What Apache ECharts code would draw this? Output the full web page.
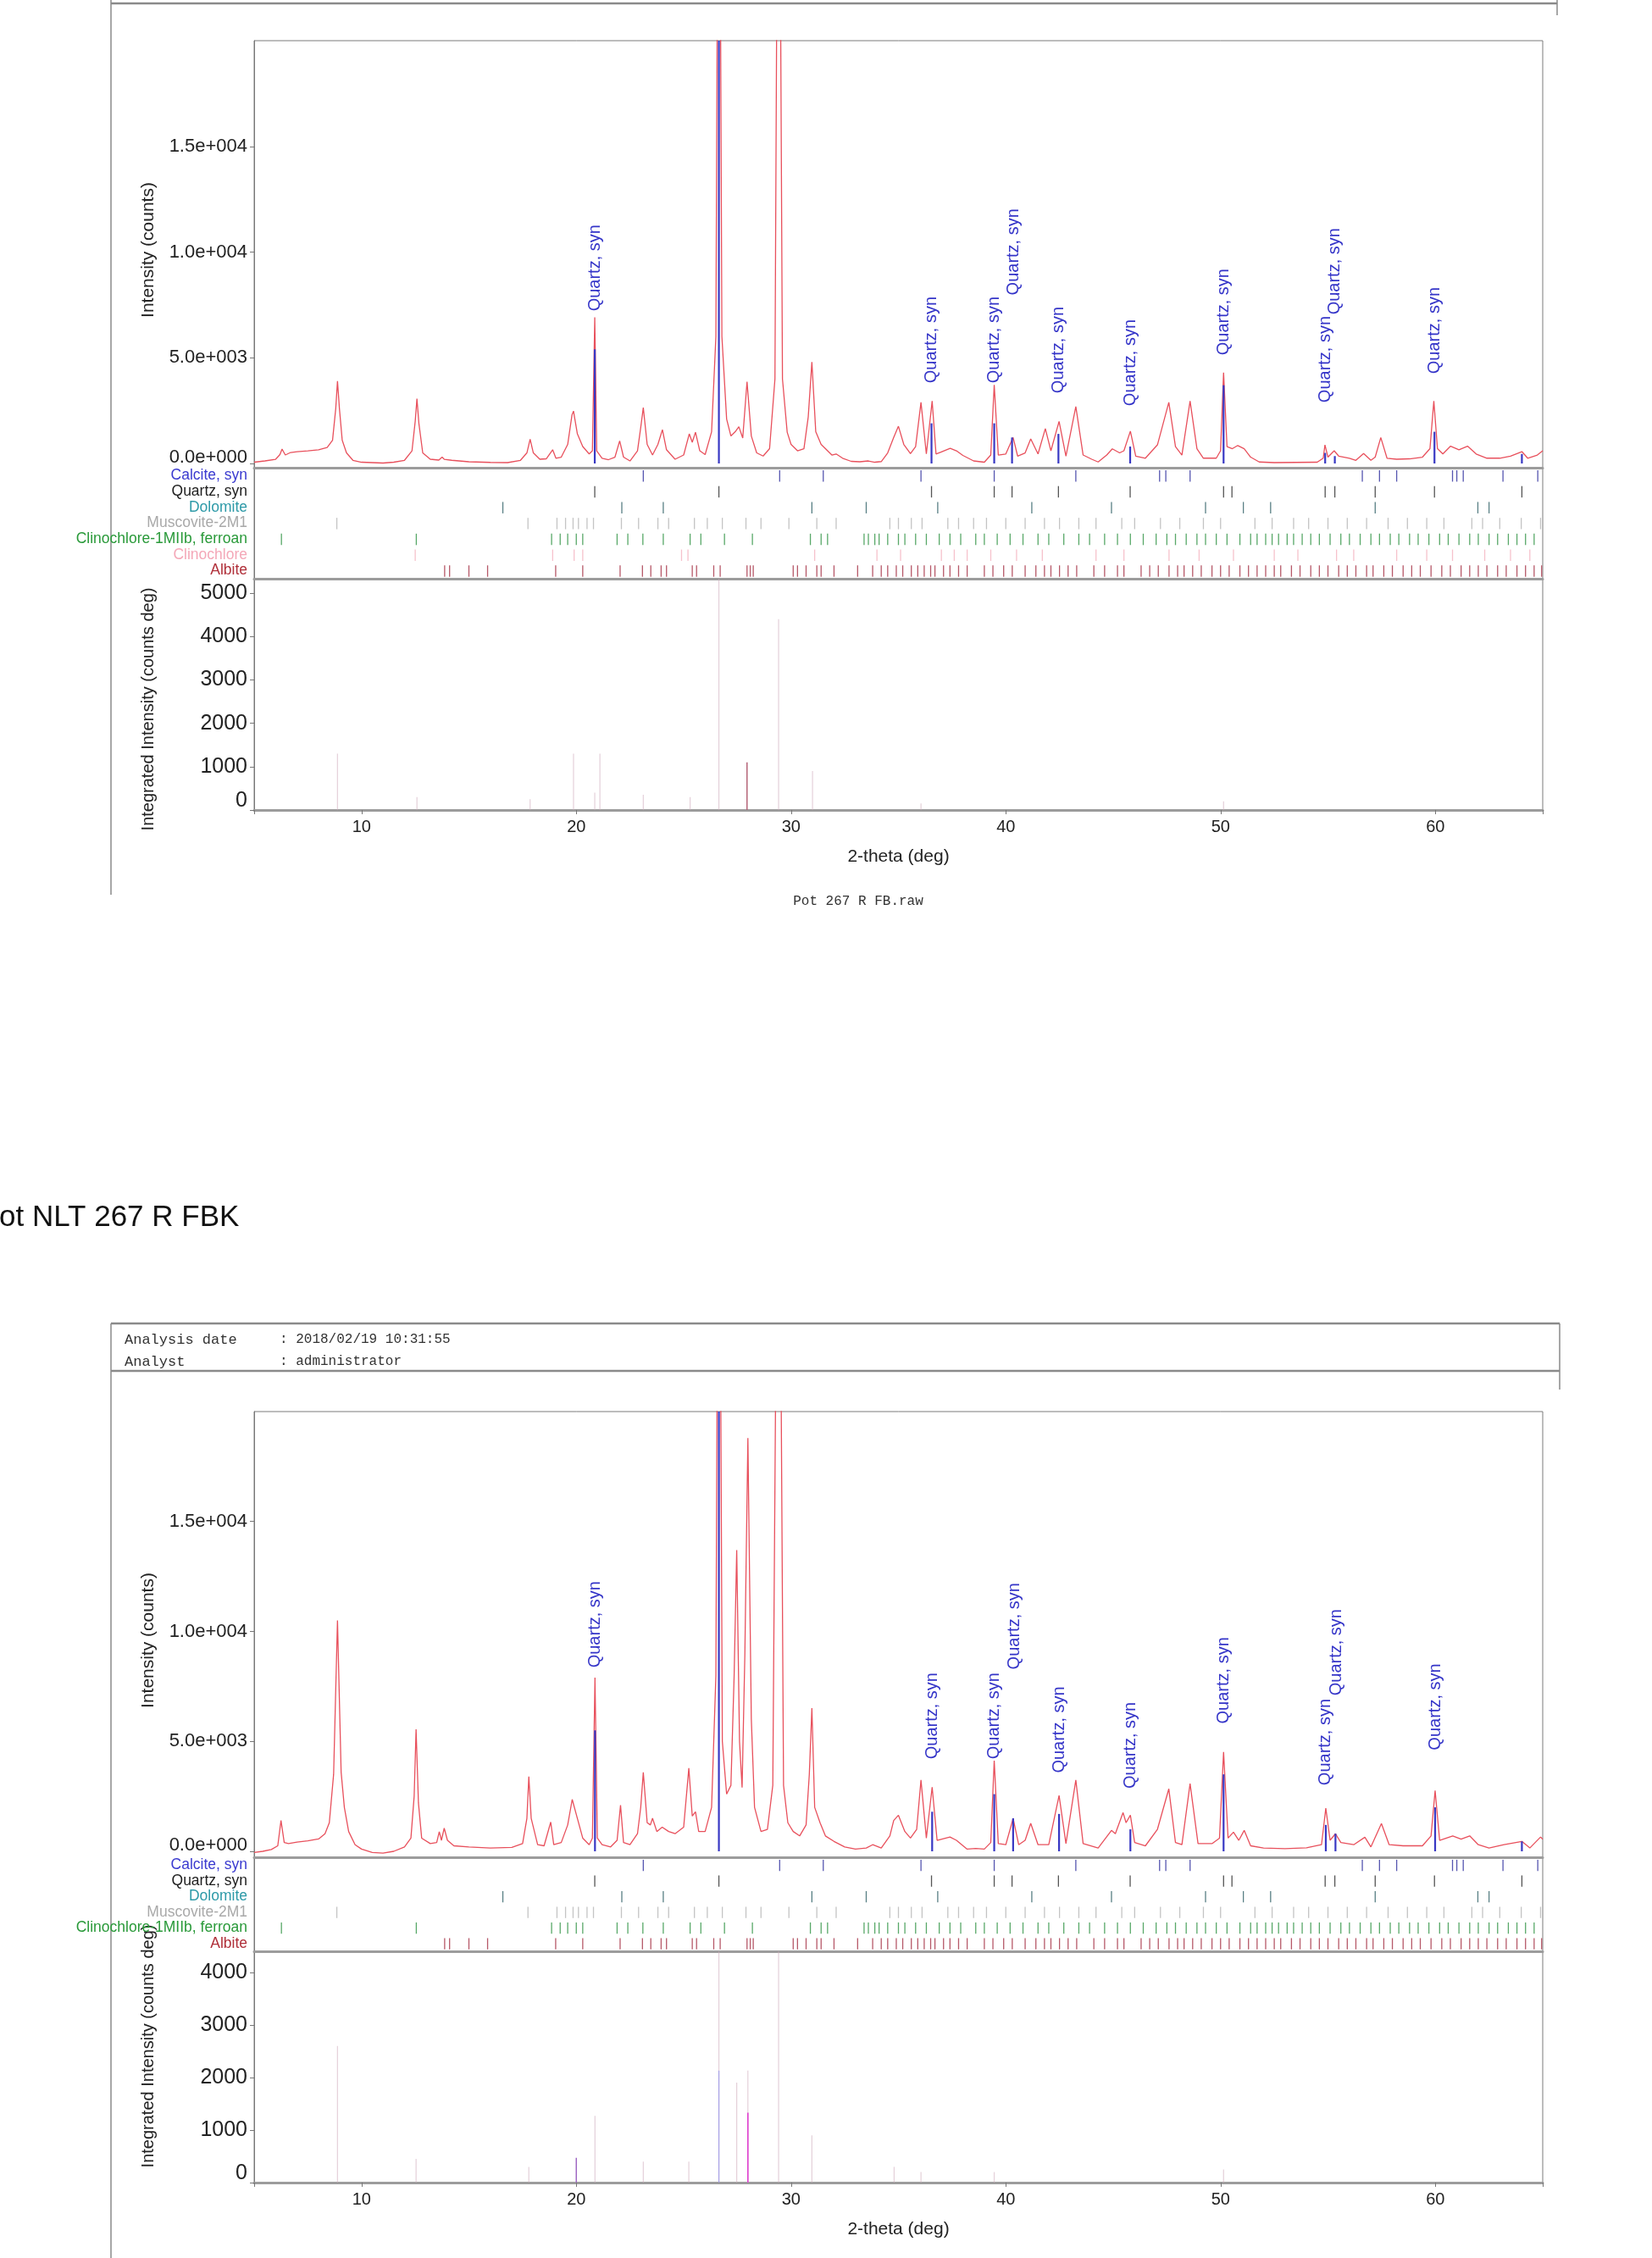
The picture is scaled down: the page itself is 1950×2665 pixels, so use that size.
<!DOCTYPE html>
<html><head><meta charset="utf-8">
<script src="https://cdn.jsdelivr.net/npm/echarts@6/dist/echarts.min.js"></script>
<style>html,body{margin:0;padding:0;background:#fff}#c{width:1950px;height:2665px}</style>
</head><body><div id="c"></div>
<script>
// ---------------- DATA ----------------
const xTickLabels = [10, 20, 30, 40, 50, 60];
const yMainTicks = [0, 5000, 10000, 15000];
const phasesA = ['Calcite, syn','Quartz, syn','Dolomite','Muscovite-2M1','Clinochlore-1MIIb, ferroan','Clinochlore','Albite'];
const phasesB = ['Calcite, syn','Quartz, syn','Dolomite','Muscovite-2M1','Clinochlore-1MIIb, ferroan','Albite'];

// measured pattern, sample A (top)
const profileA = [[5.0,60],[5.5,120],[6.0,200],[6.2,420],[6.3,680],[6.45,400],[6.7,520],[7.0,560],[7.5,600],[8.0,650],[8.4,760],[8.65,1100],[8.8,2600],[8.88,3900],[8.97,2600],[9.1,1100],[9.3,500],[9.6,150],[10.0,60],[10.5,40],[11.0,20],[11.5,60],[12.0,150],[12.35,600],[12.5,2000],[12.58,3060],[12.67,1900],[12.85,500],[13.2,200],[13.6,160],[13.75,300],[13.85,200],[14.2,150],[15.0,80],[16.0,50],[16.8,40],[17.4,150],[17.7,500],[17.85,1150],[18.0,500],[18.3,200],[18.6,220],[18.9,650],[19.05,250],[19.3,300],[19.6,900],[19.8,2300],[19.87,2480],[20.05,1400],[20.3,800],[20.6,450],[20.75,600],[20.86,6910],[20.95,600],[21.2,250],[21.5,180],[21.8,300],[22.02,1070],[22.2,300],[22.5,120],[22.85,600],[23.0,1700],[23.12,2640],[23.3,900],[23.55,400],[23.8,900],[24.01,1600],[24.2,650],[24.6,200],[25.0,400],[25.26,1400],[25.4,1000],[25.55,1480],[25.75,600],[26.0,420],[26.3,1500],[26.5,6000],[26.64,40000],[26.78,6000],[27.0,2100],[27.2,1300],[27.4,1500],[27.57,1740],[27.75,1200],[27.95,3870],[28.15,1300],[28.4,500],[28.7,350],[29.0,700],[29.25,4000],[29.42,40000],[29.6,4000],[29.82,1480],[30.0,900],[30.3,600],[30.6,700],[30.8,2200],[30.97,4800],[31.15,1500],[31.4,900],[31.55,750],[31.9,400],[32.1,450],[32.4,250],[32.8,100],[33.2,80],[33.6,120],[33.9,60],[34.2,90],[34.5,500],[34.78,1230],[35.0,1760],[35.25,900],[35.56,470],[35.8,800],[36.05,2890],[36.3,450],[36.57,2950],[36.75,450],[37.0,550],[37.41,720],[37.7,600],[38.0,380],[38.5,120],[39.0,60],[39.3,400],[39.46,3720],[39.65,400],[40.0,450],[40.34,1230],[40.55,350],[40.9,500],[41.16,1160],[41.5,450],[41.84,1650],[42.1,600],[42.48,1990],[42.8,350],[43.26,2690],[43.6,400],[44.0,200],[44.3,70],[44.7,400],[44.96,690],[45.3,500],[45.5,600],[45.8,1530],[46.05,350],[46.5,250],[47.06,880],[47.59,2890],[47.9,800],[48.2,400],[48.58,2950],[48.9,700],[49.2,250],[49.8,250],[50.0,600],[50.14,4300],[50.3,800],[50.55,700],[50.8,850],[51.1,700],[51.4,300],[51.8,70],[52.5,40],[53.5,50],[54.5,60],[54.78,250],[54.86,880],[55.0,300],[55.29,600],[55.5,350],[56.0,250],[56.3,150],[56.66,470],[57.0,150],[57.2,300],[57.46,1230],[57.75,250],[58.2,200],[58.8,220],[59.4,300],[59.75,700],[59.93,2950],[60.1,700],[60.35,450],[60.71,820],[61.1,650],[61.5,820],[61.9,450],[62.4,250],[63.0,250],[63.5,350],[64.03,560],[64.3,250],[64.75,400],[65.0,600]];

// measured pattern, sample B (bottom)
const profileB = [[5.0,-50],[5.4,0],[5.8,80],[6.1,250],[6.25,1400],[6.4,400],[6.6,350],[7.0,420],[7.5,480],[8.0,560],[8.3,800],[8.5,1300],[8.7,3500],[8.88,10500],[9.05,3600],[9.2,2000],[9.4,900],[9.7,300],[10.0,100],[10.5,-50],[11.0,-80],[11.5,0],[12.0,200],[12.3,600],[12.45,2500],[12.54,5550],[12.65,2200],[12.8,600],[13.2,350],[13.5,400],[13.62,890],[13.72,500],[13.85,1050],[14.0,500],[14.3,250],[15.0,200],[16.0,150],[17.0,180],[17.5,350],[17.7,1500],[17.79,3400],[17.9,1500],[18.2,300],[18.5,250],[18.81,1330],[18.95,300],[19.3,400],[19.6,1200],[19.81,2360],[20.05,1500],[20.3,600],[20.6,300],[20.75,600],[20.87,7900],[20.98,600],[21.2,300],[21.6,200],[21.9,500],[22.06,2100],[22.2,400],[22.5,300],[22.85,800],[23.0,2000],[23.12,3590],[23.3,1300],[23.45,1200],[23.55,1500],[23.75,900],[24.0,1100],[24.3,900],[24.6,800],[25.0,1100],[25.24,3780],[25.4,1600],[25.55,1800],[25.7,900],[26.0,900],[26.3,2000],[26.5,8000],[26.64,40000],[26.8,5000],[27.0,2600],[27.2,3000],[27.35,8000],[27.47,13700],[27.6,5000],[27.72,2900],[27.85,9000],[27.99,18800],[28.15,6000],[28.3,2000],[28.6,900],[28.9,1000],[29.15,3000],[29.42,40000],[29.65,3000],[29.85,1300],[30.1,900],[30.4,700],[30.7,1200],[30.85,3500],[30.97,6510],[31.1,2000],[31.35,1300],[31.6,700],[32.0,450],[32.5,200],[33.0,100],[33.5,150],[33.8,300],[34.2,150],[34.6,700],[34.78,1400],[35.0,1640],[35.3,900],[35.56,600],[35.85,1000],[36.05,3240],[36.3,600],[36.57,2920],[36.8,500],[37.4,650],[37.7,500],[38.2,100],[38.6,130],[39.0,100],[39.3,400],[39.46,4120],[39.65,350],[40.0,300],[40.34,1500],[40.6,300],[40.9,500],[41.16,1270],[41.5,300],[42.0,300],[42.48,2540],[42.8,350],[43.26,3240],[43.6,350],[44.3,150],[44.92,950],[45.1,800],[45.46,1760],[45.6,1300],[45.8,1640],[46.0,400],[46.5,250],[47.06,1000],[47.59,2840],[47.9,400],[48.2,300],[48.58,3080],[48.95,350],[49.6,350],[49.95,600],[50.14,4520],[50.35,600],[50.6,870],[50.85,500],[51.1,950],[51.4,250],[52.0,150],[53.0,120],[54.0,160],[54.7,300],[54.9,1960],[55.1,500],[55.35,800],[55.6,400],[56.2,300],[56.72,640],[57.0,200],[57.49,1260],[57.85,300],[58.5,250],[59.4,250],[59.8,700],[59.99,2760],[60.2,500],[60.81,700],[61.2,550],[61.6,700],[62.0,300],[62.5,150],[63.2,300],[64.03,450],[64.4,150],[64.9,650],[65.0,550]];

// Quartz reference sticks drawn in the main panels
const quartzMainA = [[20.86,5400],[26.64,40000],[36.54,1900],[39.46,1900],[40.29,1230],[42.45,1400],[45.79,800],[50.14,3700],[54.87,500],[55.32,350],[59.96,1500],[64.03,450]];
const quartzMainB = [[20.87,5500],[26.64,40000],[36.57,1800],[39.46,2600],[40.34,1500],[42.48,1700],[45.8,1000],[50.14,3500],[54.9,1200],[55.35,800],[59.99,2000],[64.03,450]];
// "Quartz, syn" label anchor points (x, intensity of label foot)
const quartzLabelsA = [[20.86,7200],[36.54,3800],[39.46,3800],[40.36,7960],[42.45,3320],[45.79,2720],[50.14,5120],[54.87,2880],[55.32,7040],[59.96,4240]];
const quartzLabelsB = [[20.87,8350],[36.57,4190],[39.46,4190],[40.4,8270],[42.48,3560],[45.8,2850],[50.14,5800],[54.9,3000],[55.4,7080],[59.99,4600]];

// reference stick positions (2-theta)
const calciteRef = [23.12,29.47,31.5,36.05,39.46,43.26,47.16,47.45,48.58,56.6,57.4,58.2,60.8,61.0,61.3,63.15,64.77];
const quartzRef = [20.86,26.64,36.54,39.46,40.29,42.45,45.79,50.14,50.53,54.87,55.32,57.2,59.96,64.03];
const dolomiteRef = [16.58,22.12,24.05,30.97,33.5,36.83,41.21,44.92,49.3,51.06,52.33,57.2,61.98,62.5];
const muscoviteRef = [8.85,17.75,19.1,19.5,19.85,20.1,20.5,20.8,22.1,22.9,23.8,24.3,25.5,26.1,26.8,27.9,28.6,29.9,31.2,32.1,34.6,35.0,35.6,36.1,37.3,37.8,38.5,39.1,40.0,40.9,41.8,42.5,43.4,44.2,45.4,46.0,47.2,48.1,49.2,50.0,51.6,52.4,53.4,54.1,55.0,55.9,56.8,57.8,58.7,59.6,60.4,61.7,62.2,63.0,64.0,64.9];
const clinoFeRef = [6.27,12.55,18.85,19.25,19.6,20.0,20.3,21.9,22.4,23.1,24.05,25.3,25.8,26.9,28.2,30.9,31.4,31.7,33.4,33.6,33.9,34.1,34.5,35.0,35.3,35.8,36.3,36.9,37.4,37.9,38.6,39.0,39.6,40.2,40.8,41.5,42.0,42.7,43.4,43.9,44.6,45.2,45.8,46.4,47.0,47.5,47.9,48.4,48.9,49.3,49.8,50.3,50.9,51.4,51.7,52.1,52.4,52.7,53.1,53.4,53.8,54.2,54.6,55.1,55.6,56.0,56.5,57.0,57.4,57.9,58.3,58.8,59.2,59.7,60.2,60.6,61.1,61.6,62.0,62.5,62.9,63.4,63.8,64.2,64.6];
const clinoRef = [12.5,18.9,19.9,20.3,24.9,25.2,31.1,34.0,35.1,37.0,37.6,38.2,39.3,40.5,41.7,44.2,45.5,47.6,49.0,50.6,52.5,53.6,55.4,56.2,58.2,59.6,60.8,62.3,63.5,64.4];
const albiteRef = [13.87,14.1,15.0,15.87,19.04,20.3,22.04,23.08,23.47,23.95,24.2,25.4,25.6,26.4,26.7,27.95,28.1,28.24,30.1,30.3,30.7,31.2,31.4,32.0,33.1,33.8,34.2,34.5,34.9,35.2,35.6,35.9,36.2,36.5,36.7,37.1,37.4,37.8,38.2,39.0,39.4,39.9,40.3,40.9,41.4,41.8,42.1,42.5,42.9,43.3,44.1,44.6,45.2,45.5,46.3,46.7,47.1,47.6,48.0,48.3,48.7,49.1,49.6,50.0,50.4,50.9,51.3,51.7,52.1,52.5,52.8,53.3,53.7,54.2,54.6,55.0,55.5,55.9,56.3,56.8,57.1,57.6,58.0,58.5,58.9,59.3,59.8,60.3,60.7,61.2,61.6,62.0,62.4,62.9,63.3,63.8,64.2,64.6,64.95];

// integrated intensity sticks (counts deg)
const integFaintA = [[8.88,1300],[12.58,300],[17.85,250],[19.87,1300],[20.86,400],[21.1,1300],[23.12,350],[25.3,300],[26.64,5333],[29.42,4400],[31.0,900],[36.05,150],[50.14,200]];
const integDarkA = [[27.95,1100]];
const integFaintB = [[8.88,2600],[12.54,450],[17.79,300],[20.87,1270],[23.12,400],[25.24,400],[26.64,4400],[27.47,1900],[27.99,2130],[29.42,4400],[30.97,900],[34.8,300],[36.05,200],[39.46,200],[50.14,250]];
const integBlueB = [[26.64,2130]];
const integPurpleB = [[20.0,470]];
const integMagentaB = [[27.99,1330]];

// ---------------- STYLE ----------------
const FONT = 'Liberation Sans, Arial, sans-serif';
const MONO = 'Liberation Mono, DejaVu Sans Mono, monospace';
const phaseColor = {'Calcite, syn':'#3b3bd0','Quartz, syn':'#1e1e1e','Dolomite':'#2e9aa8','Muscovite-2M1':'#a9a9a9','Clinochlore-1MIIb, ferroan':'#2a9a3a','Clinochlore':'#f4a8b8','Albite':'#b0303a'};
const stickColor = {'Calcite, syn':'#5656b0','Quartz, syn':'#555555','Dolomite':'#587f84','Muscovite-2M1':'#c4c4c4','Clinochlore-1MIIb, ferroan':'#58a868','Clinochlore':'#f6c2cc','Albite':'#b65868'};
const refByPhase = {'Calcite, syn':calciteRef,'Quartz, syn':quartzRef,'Dolomite':dolomiteRef,'Muscovite-2M1':muscoviteRef,'Clinochlore-1MIIb, ferroan':clinoFeRef,'Clinochlore':clinoRef,'Albite':albiteRef};

function sci(v){ if(v===0) return '{z|0.0e+000}'; const e=Math.floor(Math.log10(Math.abs(v))); const m=v/Math.pow(10,e); return m.toFixed(1)+'e+'+String(e).padStart(3,'0'); }
function plain(v){ return v===0 ? '{z|0}' : String(v); }

function stickRender(color){ return function(params, api){
  const p = api.coord([api.value(0), api.value(1)]);
  const band = api.size([0,1])[1];
  return {type:'line', shape:{x1:p[0], y1:p[1]+band*0.38, x2:p[0], y2:p[1]-band*0.34}, style:{stroke:color, lineWidth:1.3}};
};}
function barRender(color, width){ return function(params, api){
  const p0 = api.coord([api.value(0), 0]);
  const p1 = api.coord([api.value(0), api.value(1)]);
  const top = Math.max(p1[1], params.coordSys.y);
  return {type:'line', shape:{x1:p0[0], y1:p0[1], x2:p0[0], y2:top}, style:{stroke:color, lineWidth:width}};
};}
function labelRender(params, api){
  const p = api.coord([api.value(0), api.value(1)]);
  return {type:'text', x:p[0], y:p[1], rotation:Math.PI/2,
    style:{text:'Quartz, syn', x:0, y:0, align:'left', verticalAlign:'middle', fill:'#3434c8', font:'20px '+FONT}};
}

// ---------------- LAYOUT ----------------
const L = 300, R = 129;
const grids = [
  {left:L, right:R, top:48,   height:504},
  {left:L, right:R, top:552,  height:131},
  {left:L, right:R, top:683,  height:273},
  {left:L, right:R, top:1666, height:526},
  {left:L, right:R, top:2192, height:111},
  {left:L, right:R, top:2303, height:273}
].map(g => Object.assign({show:true, borderColor:'#7a7a7a', borderWidth:1, backgroundColor:'#fff', containLabel:false}, g));

const sepLine = {show:true, onZero:false, lineStyle:{color:'#9c9c9c', width:3}};
function hiddenX(i){ return {type:'value', gridIndex:i, min:5, max:65, axisLine:sepLine, axisTick:{show:false}, axisLabel:{show:false}, splitLine:{show:false}}; }
function bottomX(i, gap){ return {type:'value', gridIndex:i, min:5, max:65, axisLine:sepLine,
  axisTick:{show:true, length:5, customValues:[5,10,20,30,40,50,60,65], lineStyle:{color:'#777'}},
  axisLabel:{customValues:xTickLabels, color:'#222', fontSize:20, fontFamily:FONT, margin:10},
  splitLine:{show:false}, name:'2-theta (deg)', nameLocation:'middle', nameGap:gap,
  nameTextStyle:{color:'#222', fontSize:21, fontFamily:FONT}}; }
function mainY(i, min){ return {type:'value', gridIndex:i, min:min, max:20000,
  axisLine:{show:true, onZero:false, lineStyle:{color:'#777'}},
  axisTick:{show:true, length:5, customValues:yMainTicks, lineStyle:{color:'#777'}},
  axisLabel:{customValues:yMainTicks, formatter:sci, color:'#222', fontSize:22, fontFamily:FONT, margin:8,
    rich:{z:{fontSize:22, fontFamily:FONT, color:'#222', padding:[0,0,14,0]}}},
  splitLine:{show:false}}; }
function stickY(i, phases){ return {type:'category', gridIndex:i, data:phases, inverse:true,
  axisLine:{show:true, lineStyle:{color:'#777'}}, axisTick:{show:false},
  axisLabel:{interval:0, margin:8, fontSize:17.5, fontFamily:FONT, color:(v)=>phaseColor[v]},
  splitLine:{show:false}}; }
function lowerY(i, max){ return {type:'value', gridIndex:i, min:0, max:max, interval:1000,
  axisLine:{show:true, lineStyle:{color:'#777'}},
  axisTick:{show:true, length:5, lineStyle:{color:'#777'}},
  axisLabel:{showMaxLabel:false, formatter:plain, color:'#222', fontSize:25, fontFamily:FONT, margin:8,
    rich:{z:{fontSize:25, fontFamily:FONT, color:'#222', padding:[0,0,22,0]}}},
  splitLine:{show:false}}; }

const xAxes = [hiddenX(0), hiddenX(1), bottomX(2, 45), hiddenX(3), hiddenX(4), bottomX(5, 45)];
const yAxes = [mainY(0,-200), stickY(1,phasesA), lowerY(2,5333), mainY(3,-270), stickY(4,phasesB), lowerY(5,4400)];

const series = [];
function addPanel(gMain, gStick, gLow, profile, qMain, qLabels, phases){
  series.push({type:'line', xAxisIndex:gMain, yAxisIndex:gMain, data:profile, showSymbol:false, clip:true,
    lineStyle:{color:'#e8505c', width:1.3}, itemStyle:{color:'#e8505c'}, z:3, animation:false});
  series.push({type:'custom', xAxisIndex:gMain, yAxisIndex:gMain, data:qMain, renderItem:barRender('#3838c4',2.2), clip:true, z:4, animation:false});
  series.push({type:'custom', xAxisIndex:gMain, yAxisIndex:gMain, data:qLabels, renderItem:labelRender, z:5, animation:false});
  phases.forEach(ph => {
    series.push({type:'custom', xAxisIndex:gStick, yAxisIndex:gStick, data:refByPhase[ph].map(t=>[t, ph]),
      renderItem:stickRender(stickColor[ph]), clip:true, animation:false});
  });
}
addPanel(0,1,2, profileA, quartzMainA, quartzLabelsA, phasesA);
addPanel(3,4,5, profileB, quartzMainB, quartzLabelsB, phasesB);
function addInteg(g, data, color, w){ series.push({type:'custom', xAxisIndex:g, yAxisIndex:g, data:data, renderItem:barRender(color,w), clip:true, animation:false}); }
addInteg(2, integFaintA, 'rgba(205,170,185,0.55)', 1.2);
addInteg(2, integDarkA, '#b05a70', 1.4);
addInteg(5, integFaintB, 'rgba(205,170,185,0.55)', 1.2);
addInteg(5, integBlueB, 'rgba(140,140,235,0.7)', 1.2);
addInteg(5, integPurpleB, '#9a60c0', 1.4);
addInteg(5, integMagentaB, '#e040d0', 1.6);

const G = '#8a8a8a';
function hline(x1,x2,y,w,c){ return {type:'line', shape:{x1:x1,y1:y,x2:x2,y2:y}, style:{stroke:c||G, lineWidth:w||1.5}, silent:true}; }
function vline(x,y1,y2,w,c){ return {type:'line', shape:{x1:x,y1:y1,x2:x,y2:y2}, style:{stroke:c||G, lineWidth:w||1.5}, silent:true}; }
function txt(x,y,t,font,color,align,rot){ return {type:'text', x:x, y:y, rotation:rot||0, style:{text:t, font:font, fill:color||'#222', align:align||'left', verticalAlign:'middle'}, silent:true}; }

const graphics = [
  // top report frame
  hline(131,1838,4,2.5), vline(1838,0,18,1.5), vline(131,0,1056,1.5),
  txt(175,295,'Intensity (counts)','21px '+FONT,'#222','center',Math.PI/2),
  txt(175,837,'Integrated Intensity (counts deg)','20px '+FONT,'#222','center',Math.PI/2),
  txt(1013,1064,'Pot 267 R FB.raw','16px '+MONO,'#333','center'),
  // second sample title
  txt(-1,1437,'ot NLT 267 R FBK','35px '+FONT,'#111','left'),
  // bottom report frame and header
  hline(131,1841,1562,2.5), hline(131,1841,1618,2.5), vline(1841,1562,1640,1.5), vline(131,1562,2665,1.5),
  txt(147,1581,'Analysis date','17px '+MONO,'#333','left'),
  txt(330,1581,': 2018/02/19 10:31:55','16px '+MONO,'#333','left'),
  txt(147,1607,'Analyst','17px '+MONO,'#333','left'),
  txt(330,1607,': administrator','16px '+MONO,'#333','left'),
  txt(175,1936,'Intensity (counts)','21px '+FONT,'#222','center',Math.PI/2),
  txt(175,2415,'Integrated Intensity (counts deg)','20px '+FONT,'#222','center',Math.PI/2)
];

const chart = echarts.init(document.getElementById('c'), null, {renderer:'canvas'});
chart.setOption({
  backgroundColor:'#ffffff', animation:false,
  grid:grids, xAxis:xAxes, yAxis:yAxes, series:series,
  graphic:{elements:graphics}
});
</script>
</body></html>
